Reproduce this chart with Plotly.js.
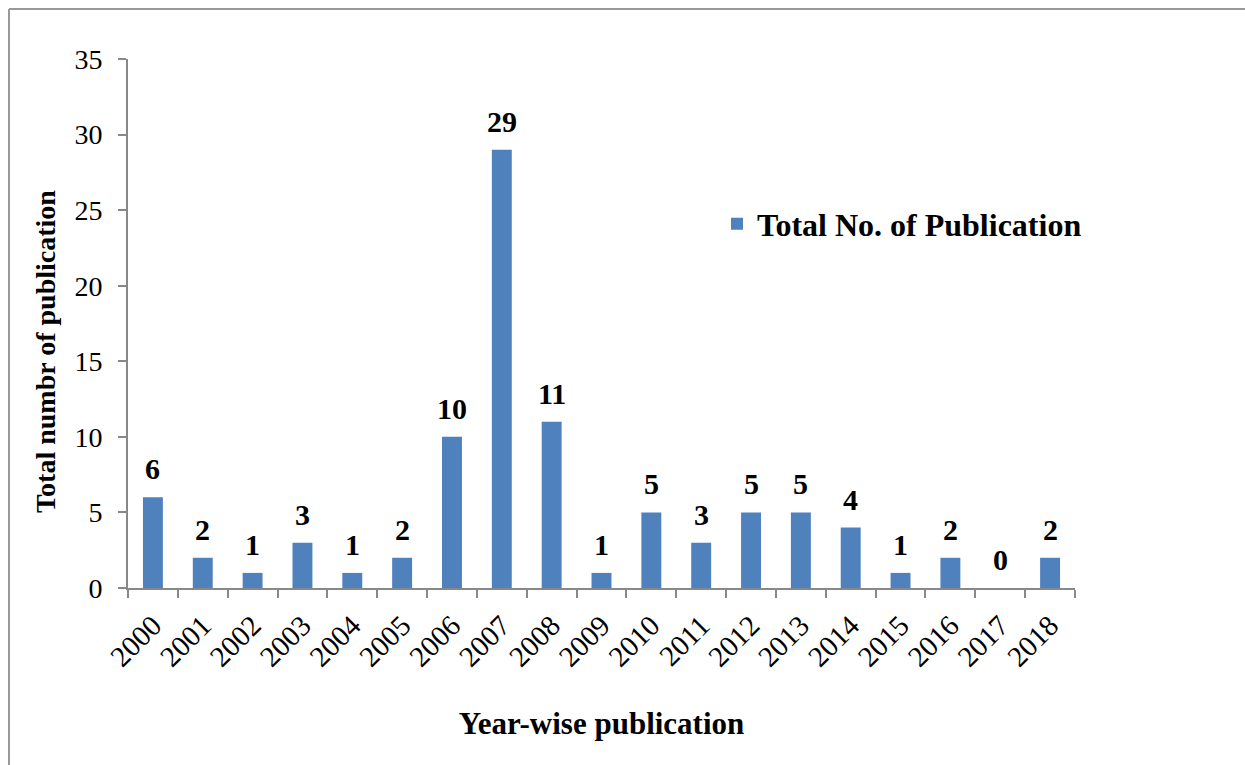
<!DOCTYPE html>
<html>
<head>
<meta charset="utf-8">
<script src="https://cdn.plot.ly/plotly-3.0.1.min.js"></script>
<style>html,body{margin:0;padding:0;background:#fff;}#chart{width:1245px;height:765px;}</style>
</head>
<body>
<div id="chart"></div>
<script>
const years = ['2000','2001','2002','2003','2004','2005','2006','2007','2008','2009','2010','2011','2012','2013','2014','2015','2016','2017','2018'];
const publications = [6,2,1,3,1,2,10,29,11,1,5,3,5,5,4,1,2,0,2];
const seriesName = 'Total No. of Publication';
const yTicks = [0,5,10,15,20,25,30,35];
const xTitle = 'Year-wise publication';
const yTitle = 'Total numbr of publication';

const serif = '"Liberation Serif", "Times New Roman", serif';
const L = 128, R = 1075, T = 59, B = 588;
const px2x = p => (p - L) / (R - L);
const py2y = p => (B - p) / (B - T);

const trace = {
  type: 'bar',
  x: years,
  y: publications,
  name: seriesName,
  marker: {color: '#4F81BD', line: {width: 0}},
  showlegend: true
};

const labels = years.map((yr, i) => ({
  x: i, y: publications[i], xref: 'x', yref: 'y',
  text: String(publications[i]),
  showarrow: false, yanchor: 'bottom', yshift: 10,
  font: {family: serif, size: 30, color: '#000', weight: 'bold'}
}));

labels.push({
  xref: 'paper', yref: 'paper', x: px2x(45), y: py2y(352),
  text: yTitle, textangle: -90, showarrow: false,
  xanchor: 'center', yanchor: 'middle',
  font: {family: serif, size: 28, color: '#000', weight: 'bold'}
});

const layout = {
  width: 1245, height: 765,
  margin: {l: L, r: 1245 - R, t: T, b: 765 - B},
  paper_bgcolor: '#fff', plot_bgcolor: '#fff',
  bargap: 0.6,
  font: {family: serif, color: '#000'},
  showlegend: true,
  legend: {
    x: px2x(717), y: py2y(224), xanchor: 'left', yanchor: 'middle',
    font: {family: serif, size: 32, color: '#000', weight: 'bold'},
    bgcolor: 'rgba(0,0,0,0)'
  },
  annotations: labels,
  xaxis: {
    type: 'category',
    range: [-0.5, years.length - 0.5],
    showline: true, linecolor: '#888', linewidth: 2,
    ticks: 'outside', tickson: 'boundaries', ticklen: 8, tickcolor: '#888', tickwidth: 2,
    tickangle: -45, ticklabelstandoff: 7,
    tickfont: {family: serif, size: 29, color: '#000'},
    showgrid: false, zeroline: false,
    title: {text: xTitle, font: {family: serif, size: 31, color: '#000', weight: 'bold'}, standoff: 40}
  },
  yaxis: {
    range: [0, 35],
    tickvals: yTicks,
    showline: true, linecolor: '#888', linewidth: 2,
    ticks: 'outside', ticklen: 8, tickcolor: '#888', tickwidth: 2,
    ticklabelstandoff: 10,
    tickfont: {family: serif, size: 28, color: '#000'},
    showgrid: false, zeroline: false
  },
  shapes: [
    {type: 'line', xref: 'paper', yref: 'paper', x0: px2x(9), x1: px2x(1250), y0: py2y(9), y1: py2y(9), line: {color: '#999', width: 2}},
    {type: 'line', xref: 'paper', yref: 'paper', x0: px2x(9), x1: px2x(9), y0: py2y(9), y1: py2y(770), line: {color: '#999', width: 2}}
  ]
};

Plotly.newPlot('chart', [trace], layout, {displayModeBar: false, staticPlot: true});
</script>
</body>
</html>
